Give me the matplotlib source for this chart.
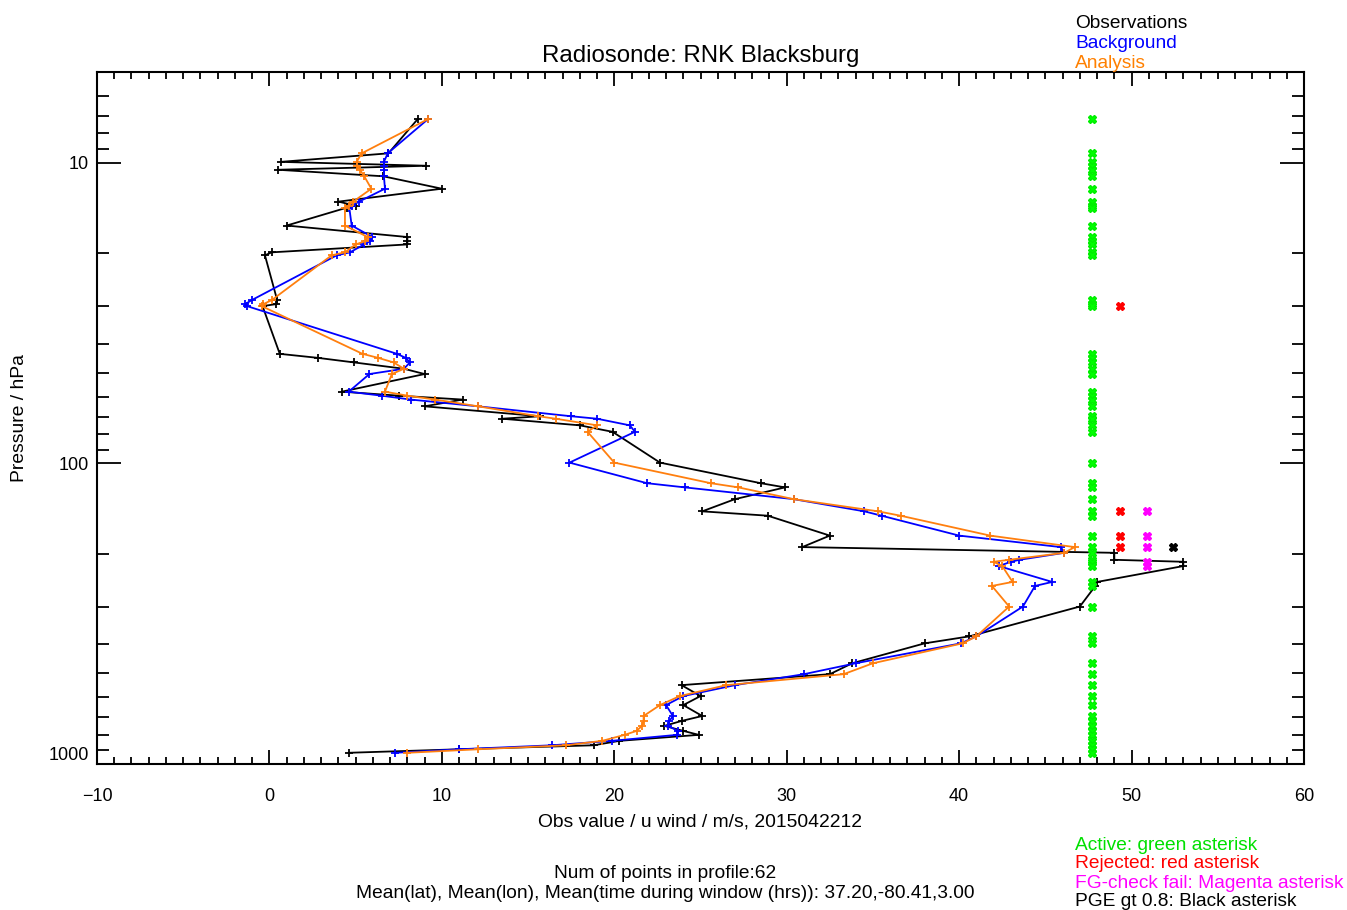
import matplotlib
matplotlib.use("Agg")
import matplotlib.pyplot as plt
from matplotlib.ticker import MultipleLocator, LogLocator, FixedLocator, FixedFormatter, NullFormatter

plt.rcParams['font.family'] = ['Liberation Sans', 'DejaVu Sans']

# Profile levels (hPa) and u-wind values (m/s)
pressure = [7.17, 9.32, 9.95, 10.25, 10.57, 11.11, 12.22, 13.49, 13.91, 14.12,
            16.20, 17.69, 18.27, 18.72, 19.89, 20.35, 28.68, 29.56, 30.02,
            43.27, 44.61, 46.2, 48.5, 50.5, 57.8, 59.6, 61.4,
            64.66, 69.77, 71.1, 74.8, 78.6, 99.5, 116.5, 120.3, 131.6,
            144.5, 149.4, 174.0, 190.0, 198.5, 209.4, 212.6, 219.7,
            248.1, 255.8, 299.5, 376.3, 397.0, 462.4, 502.7, 546.7,
            594.5, 636.9, 692.4, 719.3, 746.9, 776.0, 800.0, 837.5,
            866.5, 893.4, 917.7]

obs = [8.6, 6.9, 0.65, 9.1, 0.5, 6.6, 10.0, 4.0, 5.0, 4.5,
       1.0, 8.0, 8.0, 8.0, 0.13, -0.26, 0.45, 0.4, -0.4,
       0.6, 2.8, 4.9, 7.8, 9.0, 4.2, 7.5, 11.2,
       9.0, 15.7, 13.5, 18.0, 19.9, 22.65, 28.5, 29.9, 27.0,
       25.1, 28.9, 32.5, 30.9, 49.0, 49.0, 53.0, 53.0,
       48.0, 47.9, 47.0, 40.6, 38.0, 33.8, 32.5, 23.9,
       25.0, 24.0, 25.1, 23.9, 22.9, 24.0, 24.9, 20.3,
       18.8, 11.0, 4.6]

bkg = [9.2, 6.86, 6.64, 6.64, 6.64, 6.64, 6.7, 5.19, 4.8, 4.63,
       4.77, 5.97, 5.83, 5.5, 4.67, 3.9, -1.03, -1.4, -1.3,
       7.4, 7.9, 8.15, 7.8, 5.8, 4.6, 6.5, 8.2,
       12.1, 17.5, 19.0, 20.9, 21.2, 17.4, 21.9, 24.1, 30.4,
       34.5, 35.5, 40.0, 45.9, 46.1, 43.5, 43.0, 42.3,
       45.4, 44.4, 43.7, 41.0, 40.1, 34.0, 31.0, 27.0,
       24.0, 23.0, 23.4, 23.2, 23.1, 23.7, 23.65, 19.85,
       16.4, 11.0, 7.3]

ana = [9.2, 5.35, 5.06, 5.1, 5.25, 5.5, 5.91, 4.86, 4.6, 4.38,
       4.38, 5.7, 5.54, 5.0, 4.38, 3.61, 0.13, -0.35, -0.45,
       5.4, 6.3, 7.2, 7.8, 7.1, 6.7, 8.0, 9.6,
       12.1, 15.6, 16.6, 19.0, 18.45, 20.0, 25.6, 27.2, 30.4,
       35.3, 36.6, 41.8, 46.7, 46.1, 42.9, 42.0, 42.5,
       43.1, 41.9, 42.9, 41.0, 40.2, 35.0, 33.3, 26.5,
       23.8, 22.65, 21.7, 21.7, 21.6, 21.3, 20.6, 19.3,
       17.2, 12.1, 8.0]

# QC flag levels (hPa)
rejected_p = [30.02, 144.5, 174.0, 190.0]
fgcheck_p = [144.5, 174.0, 190.0, 212.6, 219.7]
pge_p = [190.0]

fig = plt.figure(figsize=(13.47, 9.10), dpi=100)
ax = fig.add_axes([97 / 1347, 1 - 764 / 910, 1207 / 1347, 692 / 910])

ax.plot(obs, pressure, color='black', lw=1.3, marker='+', ms=6, mew=1.3)
ax.plot(bkg, pressure, color='#0000ff', lw=1.3, marker='+', ms=6, mew=1.3)
ax.plot(ana, pressure, color='#ff7f0e', lw=1.3, marker='+', ms=6, mew=1.3)

# flag columns
ax.plot([47.7] * len(pressure), pressure, ls='none', marker='X', ms=6, color='#00ff00', mec='#00ee00')
ax.plot([49.3] * len(rejected_p), rejected_p, ls='none', marker='X', ms=6, color='#ff0000')
ax.plot([50.9] * len(fgcheck_p), fgcheck_p, ls='none', marker='X', ms=6, color='#ff00ff')
ax.plot([52.4] * len(pge_p), pge_p, ls='none', marker='X', ms=6, color='black')

ax.set_yscale('log')
ax.set_ylim(1000, 5)
ax.set_xlim(-10, 60)

ax.xaxis.set_major_locator(MultipleLocator(10))
ax.xaxis.set_minor_locator(MultipleLocator(1))
ax.yaxis.set_major_locator(FixedLocator([10, 100, 1000]))
ax.yaxis.set_major_formatter(FixedFormatter(['10', '100', '1000']))
ax.yaxis.set_minor_locator(LogLocator(base=10, subs=range(2, 10)))
ax.yaxis.set_minor_formatter(NullFormatter())

ax.tick_params(axis='both', which='both', direction='in', top=True, right=True,
               labelsize=13, width=1.3, color='black')
ax.tick_params(axis='x', which='major', length=10, pad=17)
ax.tick_params(axis='x', which='minor', length=5)
ax.tick_params(axis='y', which='major', length=17, pad=6)
ax.tick_params(axis='y', which='minor', length=8.5)
for s in ax.spines.values():
    s.set_linewidth(1.5)

# IDL puts the bottom label just above the axis corner
fig.canvas.draw()
ax.get_yticklabels()[-1].set_va('bottom')

ax.set_title('Radiosonde: RNK Blacksburg', fontsize=17.3, pad=7)
ax.set_xlabel('Obs value / u wind / m/s, 2015042212', fontsize=13.9)
ax.xaxis.set_label_coords(0.5, -0.0838)
ax.xaxis.label.set_va('center')
ax.set_ylabel('Pressure / hPa', fontsize=13.9)
ax.yaxis.set_label_coords(-0.064, 0.5)
ax.yaxis.label.set_va('center')

# legend-like text blocks
fx = 1075 / 1347
for txt, col, yy in [('Observations', 'black', 24), ('Background', '#0000ff', 44),
                     ('Analysis', '#ff8000', 63)]:
    fig.text(fx, 1 - yy / 910, txt, color=col, fontsize=13.8, ha='left', va='center')
for txt, col, yy in [('Active: green asterisk', '#00e000', 845),
                     ('Rejected: red asterisk', '#ff0000', 864),
                     ('FG-check fail: Magenta asterisk', '#ff00ff', 883),
                     ('PGE gt 0.8: Black asterisk', 'black', 902)]:
    fig.text(fx, 1 - yy / 910, txt, color=col, fontsize=13.8, ha='left', va='center')

fig.text(665 / 1347, 1 - 874 / 910, 'Num of points in profile:62', fontsize=13.8, ha='center', va='center')
fig.text(665 / 1347, 1 - 893 / 910,
         'Mean(lat), Mean(lon), Mean(time during window (hrs)): 37.20,-80.41,3.00',
         fontsize=13.8, ha='center', va='center')

fig.savefig('out.png', dpi=100)
